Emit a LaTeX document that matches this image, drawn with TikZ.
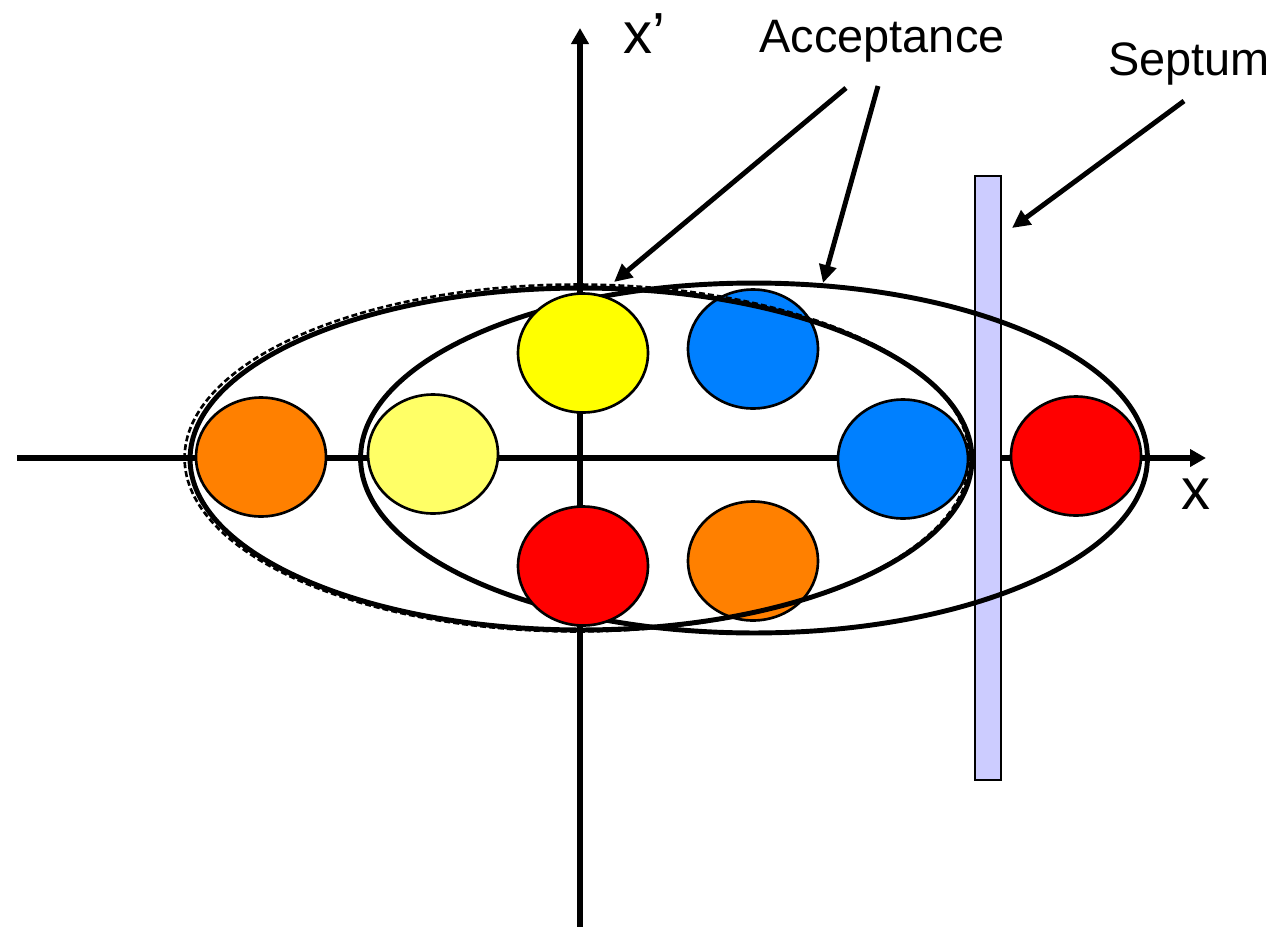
\documentclass[tikz,border=0pt]{standalone}
\usepackage{fontspec}
\setmainfont{Liberation Sans}
\usetikzlibrary{shapes.geometric,arrows.meta}
\definecolor{beamorange}{HTML}{FF8000}
\definecolor{beamblue}{HTML}{0080FF}
\definecolor{beamred}{HTML}{FF0000}
\definecolor{beamyellow}{HTML}{FFFF00}
\definecolor{beamlight}{HTML}{FFFF66}
\definecolor{septumfill}{HTML}{CCCCFF}
\tikzset{
  axisline/.style={line width=3pt, -{Triangle[length=0.32cm,width=0.34cm]}},
  accline/.style={line width=2.8pt},
  pointer/.style={line width=2.8pt, -{Triangle[length=0.36cm,width=0.34cm]}},
  beam/.style={ellipse, draw, line width=1.5pt, inner sep=0pt,
               minimum width=2.6cm, minimum height=2.38cm},
  label/.style={anchor=base, inner sep=0pt, font=\fontsize{26.7}{30}\selectfont},
  axlabel/.style={anchor=base, inner sep=0pt, font=\fontsize{33}{38}\selectfont},
  septumbox/.style={rectangle, draw, fill=septumfill, line width=1.5pt, inner sep=0pt,
               minimum width=0.52cm, minimum height=12.08cm}
}
\begin{document}
\begin{tikzpicture}[x=0.02cm,y=-0.02cm]
\useasboundingbox (0,0) rectangle (1276,927);

% axes
\coordinate (xL) at (17,458);
\coordinate (xR) at (1206,458);
\coordinate (yB) at (580,927);
\coordinate (yT) at (580,28);
\draw[axisline] (xL) -- (xR);
\draw[axisline] (yB) -- (yT);

% septum
\node[septumbox] (septum) at (988,478) {};

% shifted acceptance ellipse (drawn below the beams)
\draw[accline] (754,458) ellipse [x radius=7.87cm, y radius=3.5cm];

% beam spots
\node[beam, fill=beamorange] (oL) at (261,457) {};
\node[beam, fill=beamlight]  (yL) at (433,454) {};
\node[beam, fill=beamyellow] (yT2) at (583,353) {};
\node[beam, fill=beamred]    (rB) at (583,566) {};
\node[beam, fill=beamblue]   (bT) at (753,349) {};
\node[beam, fill=beamorange] (oB) at (753,561) {};
\node[beam, fill=beamblue]   (bR) at (903,459) {};
\node[beam, fill=beamred]    (rR) at (1076,456) {};

% centred acceptance ellipse and dashed one
\draw[accline] (581,459) ellipse [x radius=7.82cm, y radius=3.42cm];
\draw[line width=1.5pt, dash pattern=on 0.12cm off 0.06cm] (577,458) ellipse [x radius=7.85cm, y radius=3.47cm];

% labels
\node[label] (acc) at (882,52) {Acceptance};
\node[label] (sep) at (1189,75) {Septum};
\node[axlabel] (xp) at (644,53) {x’};
\node[axlabel] (xx) at (1196,509) {x};

% pointers
\coordinate (a1s) at (846,88);
\coordinate (a1e) at (614,282);
\coordinate (a2s) at (878,86);
\coordinate (a2e) at (823,283);
\coordinate (s1s) at (1184,101);
\coordinate (s1e) at (1012,228);
\draw[pointer] (a1s) -- (a1e);
\draw[pointer] (a2s) -- (a2e);
\draw[pointer] (s1s) -- (s1e);
\end{tikzpicture}
\end{document}
